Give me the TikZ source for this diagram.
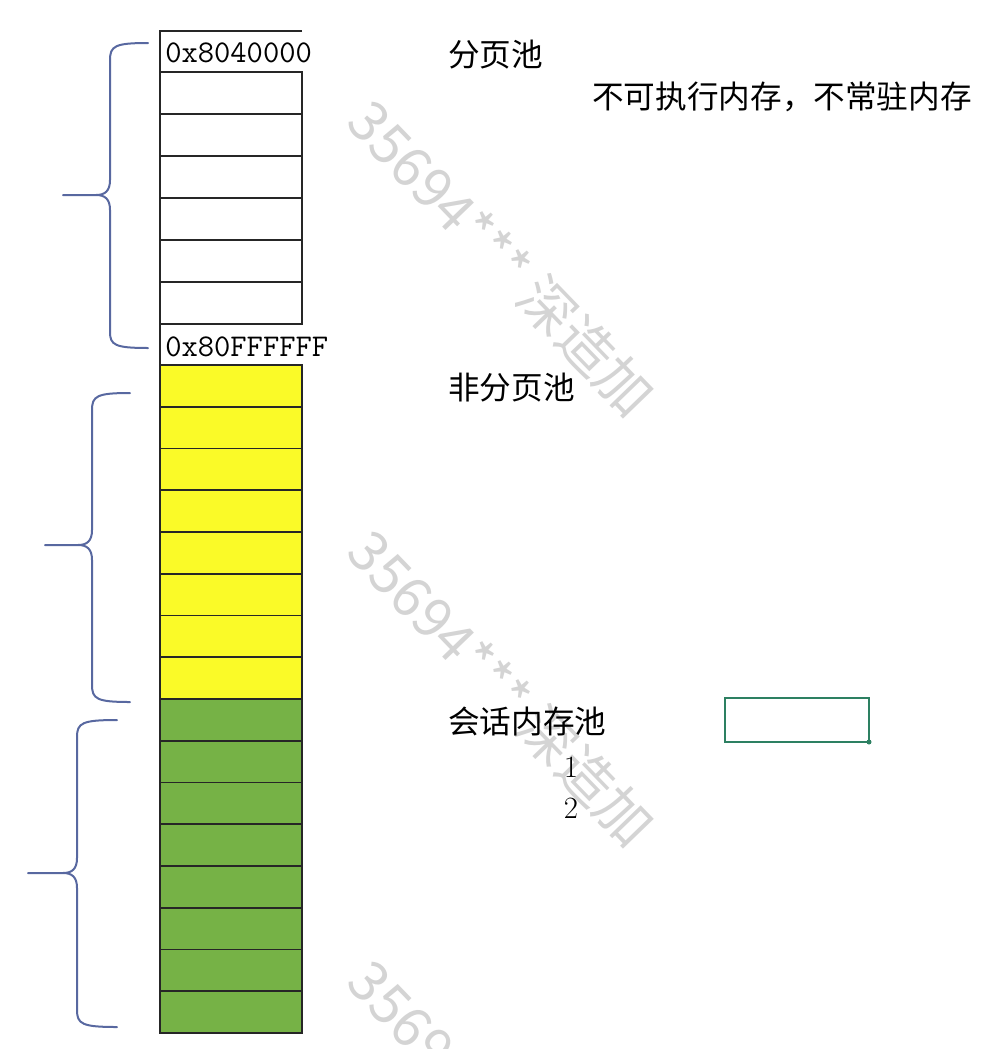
\documentclass[tikz,border=0pt]{standalone}
\usepackage{fontspec}
\newfontfamily\cjk{Noto Sans CJK SC}
\usepackage{xcolor}
\usepackage{tikz}

\definecolor{pageyellow}{RGB}{250,250,40}
\definecolor{poolgreen}{RGB}{118,178,70}
\definecolor{bracecol}{RGB}{88,104,160}
\definecolor{boxgreen}{RGB}{45,128,98}
\definecolor{wmgray}{RGB}{212,212,212}

\begin{document}
\begin{tikzpicture}[x=0.25mm, y=-0.25mm,
    cell/.style={draw=black!85, line width=0.45mm},
    brace/.style={draw=bracecol, line width=0.5mm, line cap=round},
    hexlabel/.style={anchor=west, inner sep=0, font=\ttfamily\fontsize{22.5}{26}\selectfont},
    pool/.style={anchor=west, inner sep=0, font=\cjk\fontsize{22.5}{26}\selectfont},
    num/.style={inner sep=0, font=\fontsize{22}{26}\selectfont},
    wmark/.style={text=wmgray, inner sep=0, rotate=-46, font=\cjk\fontsize{39.5}{42}\selectfont}]

    \useasboundingbox (0,0) rectangle (1006,1049);

    % watermark
    \begin{scope}
        \clip (0,0) rectangle (1006,1049);
        \foreach \k in {0,1,2}
            \node[wmark] (wm\k) at (502,258+430*\k) {35694*** 深造加};
    \end{scope}

    % paged pool
    \draw[cell] (302,31) -- (160,31) -- (160,72);
    \foreach \i in {0,...,5}
        \draw[cell, fill=white] (160,72+42*\i) rectangle (302,114+42*\i);
    \draw[cell] (160,324) -- (160,365);
    % nonpaged pool
    \foreach \i in {0,...,7}
        \draw[cell, fill=pageyellow] (160,365+41.75*\i) rectangle (302,406.75+41.75*\i);
    % session pool
    \foreach \i in {0,...,7}
        \draw[cell, fill=poolgreen] (160,699+41.75*\i) rectangle (302,740.75+41.75*\i);

    \node[hexlabel] (addrtop) at (165,53) {0x8040000};
    \node[hexlabel] (addrend) at (165,347) {0x80FFFFFF};

    \node[pool] (paged) at (448,55) {分页池};
    \node[pool] (pagednote) at (592,97) {不可执行内存，不常驻内存};
    \node[pool] (nonpaged) at (448,388) {非分页池};
    \node[pool] (session) at (448,722) {会话内存池};
    \node[num] (one) at (571,767) {1};
    \node[num] (two) at (571,808) {2};

    \draw[draw=boxgreen, line width=0.5mm] (725,698) rectangle (869,742);
    \fill[boxgreen] (869,742) circle (2.5);

    % braces
    \draw[brace] (148,43) .. controls (115,43) and (110,46) .. (110,60) -- (110,180)
        .. controls (110,191) and (105,195) .. (96,195) -- (63,195)
        (96,195) .. controls (105,195) and (110,199) .. (110,210) -- (110,332)
        .. controls (110,345) and (115,348) .. (148,348);
    \draw[brace] (130,393) .. controls (97,393) and (92,396) .. (92,410) -- (92,530)
        .. controls (92,541) and (87,545) .. (78,545) -- (45,545)
        (78,545) .. controls (87,545) and (92,549) .. (92,560) -- (92,685)
        .. controls (92,699) and (97,702) .. (130,702);
    \draw[brace] (117,720) .. controls (82,720) and (77,723) .. (77,737) -- (77,858)
        .. controls (77,869) and (72,873) .. (63,873) -- (28,873)
        (63,873) .. controls (72,873) and (77,877) .. (77,888) -- (77,1010)
        .. controls (77,1024) and (82,1027) .. (117,1027);
\end{tikzpicture}
\end{document}
